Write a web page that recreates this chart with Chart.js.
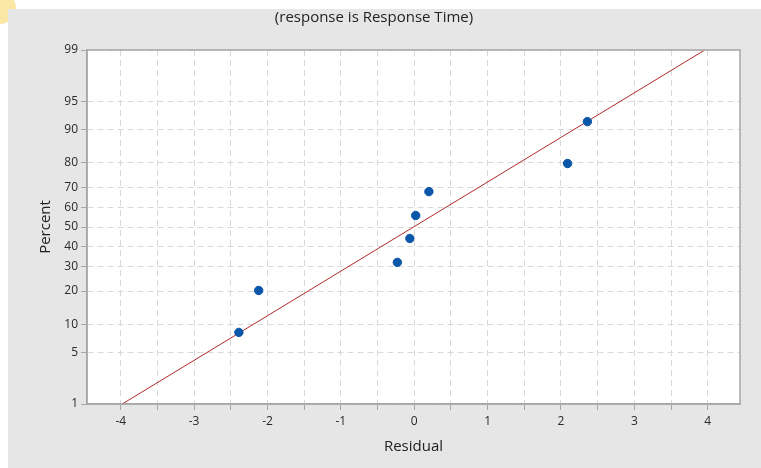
<!DOCTYPE html>
<html>
<head>
<meta charset="utf-8">
<script src="https://cdn.jsdelivr.net/npm/chart.js@4/dist/chart.umd.min.js"></script>
<style>
  html, body { margin: 0; padding: 0; background: #ffffff; width: 761px; height: 468px; overflow: hidden; }
  #panel { position: absolute; left: 8px; top: 9px; width: 753px; height: 459px; background: #e6e6e6; }
  #dot { position: absolute; left: -16px; top: -8px; width: 32px; height: 32px; border-radius: 50%; background: #fbe7a6; }
  canvas { display: block; }
</style>
</head>
<body>
<div id="dot"></div>
<div id="panel"><canvas id="c" width="753" height="459"></canvas></div>
<script>
// ---- data ----
const residuals = [-2.39, -2.12, -0.23, -0.06, 0.02, 0.20, 2.09, 2.36];
const percents  = [8.3, 20.2, 32.1, 44.0, 56.0, 67.9, 79.8, 91.7];
const fitResidual = [-3.98, 3.96];
const fitPercent  = [1, 99];
const percentTicks = [1, 5, 10, 20, 30, 40, 50, 60, 70, 80, 90, 95, 99];
const residualTicks = [-4, -3.5, -3, -2.5, -2, -1.5, -1, -0.5, 0, 0.5, 1, 1.5, 2, 2.5, 3, 3.5, 4];

// ---- normal probability helpers for the probit scale ----
function normInv(p) {
  const a = [-3.969683028665376e+01, 2.209460984245205e+02, -2.759285104469687e+02, 1.383577518672690e+02, -3.066479806614716e+01, 2.506628277459239e+00];
  const b = [-5.447609879822406e+01, 1.615858368580409e+02, -1.556989798598866e+02, 6.680131188771972e+01, -1.328068155288572e+01];
  const c = [-7.784894002430293e-03, -3.223964580411365e-01, -2.400758277161838e+00, -2.549732539343734e+00, 4.374664141464968e+00, 2.938163982698783e+00];
  const d = [7.784695709041462e-03, 3.224671290700398e-01, 2.445134137142996e+00, 3.754408661907416e+00];
  const pl = 0.02425, ph = 1 - pl;
  let q, r;
  if (p < pl) { q = Math.sqrt(-2 * Math.log(p)); return (((((c[0]*q+c[1])*q+c[2])*q+c[3])*q+c[4])*q+c[5]) / ((((d[0]*q+d[1])*q+d[2])*q+d[3])*q+1); }
  if (p <= ph) { q = p - 0.5; r = q*q; return (((((a[0]*r+a[1])*r+a[2])*r+a[3])*r+a[4])*r+a[5])*q / (((((b[0]*r+b[1])*r+b[2])*r+b[3])*r+b[4])*r+1); }
  q = Math.sqrt(-2 * Math.log(1 - p)); return -(((((c[0]*q+c[1])*q+c[2])*q+c[3])*q+c[4])*q+c[5]) / ((((d[0]*q+d[1])*q+d[2])*q+d[3])*q+1);
}
function normCdf(z) {
  const t = 1 / (1 + 0.2316419 * Math.abs(z));
  const y = t * (0.319381530 + t * (-0.356563782 + t * (1.781477937 + t * (-1.821255978 + t * 1.330274429))));
  const v = 1 - Math.exp(-z*z/2) / Math.sqrt(2*Math.PI) * y;
  return z >= 0 ? v : 1 - v;
}

class ProbitScale extends Chart.LinearScale {
  buildTicks() { return percentTicks.map(v => ({ value: v })); }
  configure() {
    super.configure();
    this._z0 = normInv(this.min / 100);
    this._z1 = normInv(this.max / 100);
  }
  getPixelForValue(v) {
    if (v === null || v === undefined || isNaN(v)) return NaN;
    return this.getPixelForDecimal((normInv(v / 100) - this._z0) / (this._z1 - this._z0));
  }
  getValueForPixel(px) {
    return 100 * normCdf(this._z0 + this.getDecimalForPixel(px) * (this._z1 - this._z0));
  }
}
ProbitScale.id = 'probit';
ProbitScale.defaults = {};
Chart.register(ProbitScale);

const frame = {
  id: 'frame',
  afterDraw(chart) {
    const { ctx, chartArea: a } = chart;
    ctx.save();
    ctx.strokeStyle = '#a6a6a6';
    ctx.lineWidth = 1.5;
    ctx.strokeRect(a.left, a.top, a.right - a.left, a.bottom - a.top);
    ctx.restore();
  }
};
const whiteArea = {
  id: 'whiteArea',
  beforeDraw(chart) {
    const { ctx, chartArea: a } = chart;
    ctx.save();
    ctx.fillStyle = '#ffffff';
    ctx.fillRect(a.left, a.top, a.right - a.left, a.bottom - a.top);
    ctx.restore();
  }
};

const FONT = "'Open Sans', 'Noto Sans', sans-serif";
const gridCommon = { color: '#d9d9d9', lineWidth: 1, tickColor: '#a6a6a6', tickLength: 6, tickWidth: 1 };

new Chart(document.getElementById('c'), {
  type: 'scatter',
  data: {
    datasets: [
      {
        type: 'line',
        data: fitResidual.map((x, i) => ({ x: x, y: fitPercent[i] })),
        borderColor: '#b02a2a',
        borderWidth: 1,
        pointRadius: 0,
        fill: false,
        order: 2
      },
      {
        data: residuals.map((x, i) => ({ x: x, y: percents[i] })),
        backgroundColor: '#0a56a8',
        borderColor: '#0a56a8',
        pointRadius: 4.2,
        order: 1
      }
    ]
  },
  options: {
    responsive: false,
    animation: false,
    layout: { padding: { left: 0, right: 21, top: 0, bottom: 0 } },
    plugins: {
      legend: { display: false },
      tooltip: { enabled: false },
      title: {
        display: true,
        text: '(response is Response Time)',
        color: '#222',
        font: { family: FONT, size: 15, weight: 'normal' },
        padding: { top: 0, bottom: 23 }
      }
    },
    scales: {
      x: {
        type: 'linear',
        min: -4.46,
        max: 4.44,
        afterFit(s) { s.height = 64; },
        afterBuildTicks(s) { s.ticks = residualTicks.map(v => ({ value: v })); },
        ticks: {
          autoSkip: false,
          maxRotation: 0,
          color: '#2a2a2a',
          font: { family: FONT, size: 12 },
          padding: 4,
          callback: v => (Number.isInteger(v) ? String(v) : '')
        },
        grid: gridCommon,
        border: { display: true, color: '#a6a6a6', width: 1.5, dash: [6, 4] },
        title: {
          display: true,
          text: 'Residual',
          color: '#222',
          font: { family: FONT, size: 15 },
          padding: { top: 0, bottom: 12 }
        }
      },
      y: {
        type: 'probit',
        min: 1,
        max: 99,
        afterFit(s) { s.width = 79; },
        ticks: {
          autoSkip: false,
          color: '#2a2a2a',
          font: { family: FONT, size: 12 },
          padding: 3,
          callback: v => String(v)
        },
        grid: gridCommon,
        border: { display: true, color: '#a6a6a6', width: 1.5, dash: [6, 4] },
        title: {
          display: true,
          text: 'Percent',
          color: '#222',
          font: { family: FONT, size: 15 },
          padding: { top: 29, bottom: 0 }
        }
      }
    }
  },
  plugins: [whiteArea, frame]
});
</script>
</body>
</html>
